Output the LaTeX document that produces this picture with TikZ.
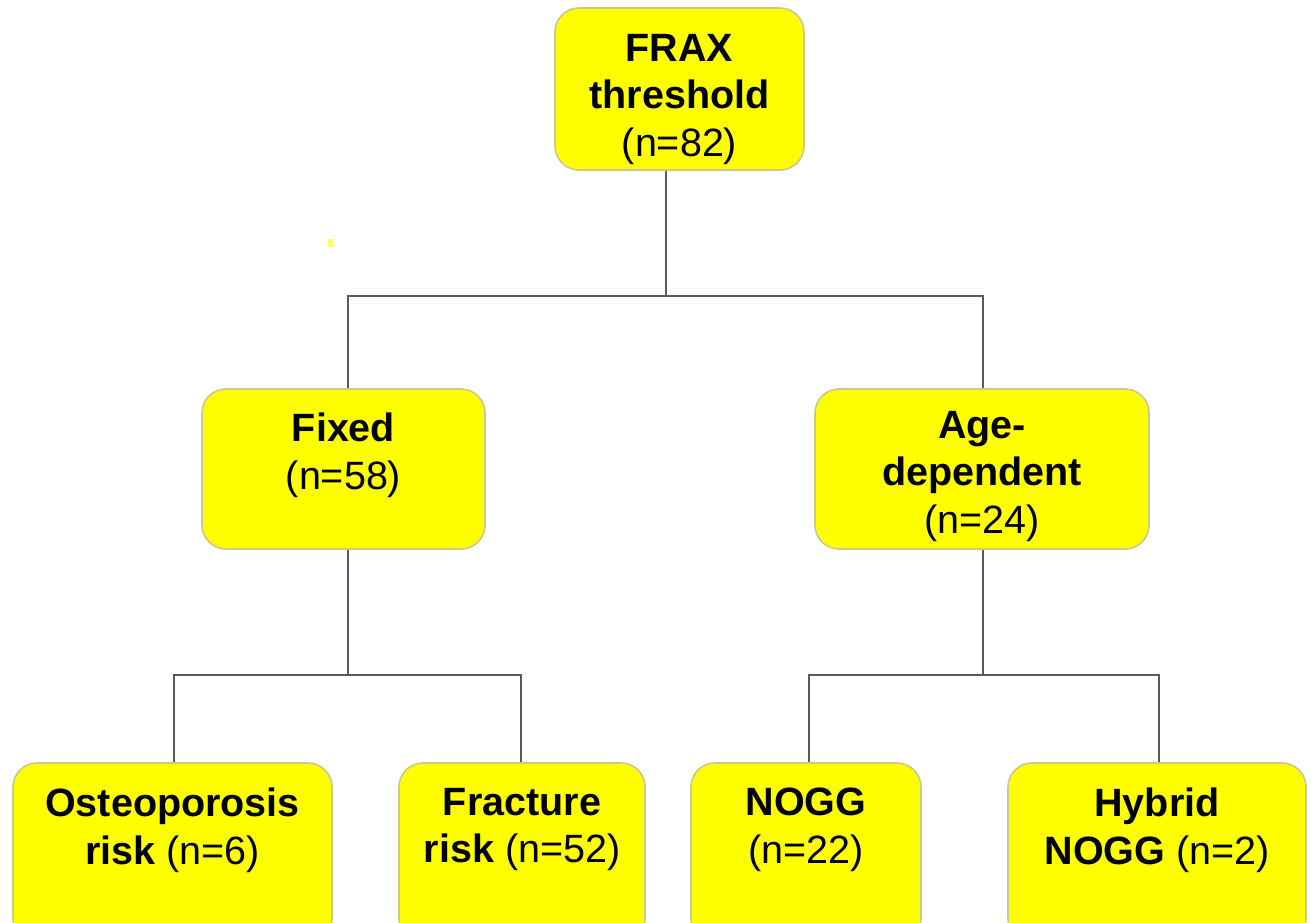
\documentclass[tikz,border=0pt]{standalone}
\usepackage{fontspec}
\setmainfont{Liberation Sans}
\begin{document}
\begin{tikzpicture}[x=1pt,y=-1pt,
  box/.style={draw=boxline, line width=1.6pt, fill=boxfill, rounded corners=24pt, inner sep=0pt},
  lbl/.style={anchor=north, inner sep=0pt, align=center, text=black, font=\fontsize{39.5}{47.5}\selectfont},
  conn/.style={draw=connline, line width=1.5pt}]
\definecolor{boxfill}{HTML}{FFFF00}
\definecolor{boxline}{HTML}{C9C98A}
\definecolor{connline}{HTML}{5A5A5A}
\definecolor{dotc}{HTML}{FFFF66}
\useasboundingbox[fill=white] (0,0) rectangle (1313,922);
% boxes
\node[box, minimum width=249pt, minimum height=162pt] (top) at (679.5,89) {};
\node[box, minimum width=283pt, minimum height=160pt] (fixed) at (343.5,469) {};
\node[box, minimum width=334pt, minimum height=160pt] (age) at (982,469) {};
\node[box, minimum width=319pt, minimum height=180pt] (osteo) at (172.5,853) {};
\node[box, minimum width=246pt, minimum height=180pt] (fract) at (522,853) {};
\node[box, minimum width=230pt, minimum height=180pt] (nogg) at (806,853) {};
\node[box, minimum width=298pt, minimum height=180pt] (hybrid) at (1157,853) {};
% labels
\node[lbl] (ttop) at (679.5,34) {\textbf{FRAX}\\\textbf{threshold}\\(n=82)};
\node[lbl] (tfixed) at (343.5,413) {\textbf{Fixed}\\(n=58)};
\node[lbl] (tage) at (982,411) {\textbf{Age-}\\\textbf{dependent}\\(n=24)};
\node[lbl] (tosteo) at (172.5,788) {\textbf{Osteoporosis}\\\textbf{risk} (n=6)};
\node[lbl] (tfract) at (522,788) {\textbf{Fracture}\\\textbf{risk} (n=52)};
\node[lbl] (tnogg) at (806,788) {\textbf{NOGG}\\(n=22)};
\node[lbl] (thybrid) at (1157,788) {\textbf{Hybrid}\\\textbf{NOGG} (n=2)};
% junction coordinates
\coordinate (j1) at (666,296);
\coordinate (fx) at (348,0);
\coordinate (ax) at (983,0);
\coordinate (j2) at (348,675);
\coordinate (j3) at (983,675);
\coordinate (ox) at (174,0);
\coordinate (frx) at (521,0);
\coordinate (nx) at (809,0);
\coordinate (hx) at (1159,0);
% connectors
\draw[conn] (top.south -| j1) -- (j1);
\draw[conn] (fixed.north -| fx) |- (j1) -| (age.north -| ax);
\draw[conn] (fixed.south -| fx) -- (j2);
\draw[conn] (osteo.north -| ox) |- (j2) -| (fract.north -| frx);
\draw[conn] (age.south -| ax) -- (j3);
\draw[conn] (nogg.north -| nx) |- (j3) -| (hybrid.north -| hx);
% stray dot
\node[fill=dotc, inner sep=0pt, minimum width=6pt, minimum height=8pt] (dot) at (331,243) {};
\end{tikzpicture}
\end{document}
